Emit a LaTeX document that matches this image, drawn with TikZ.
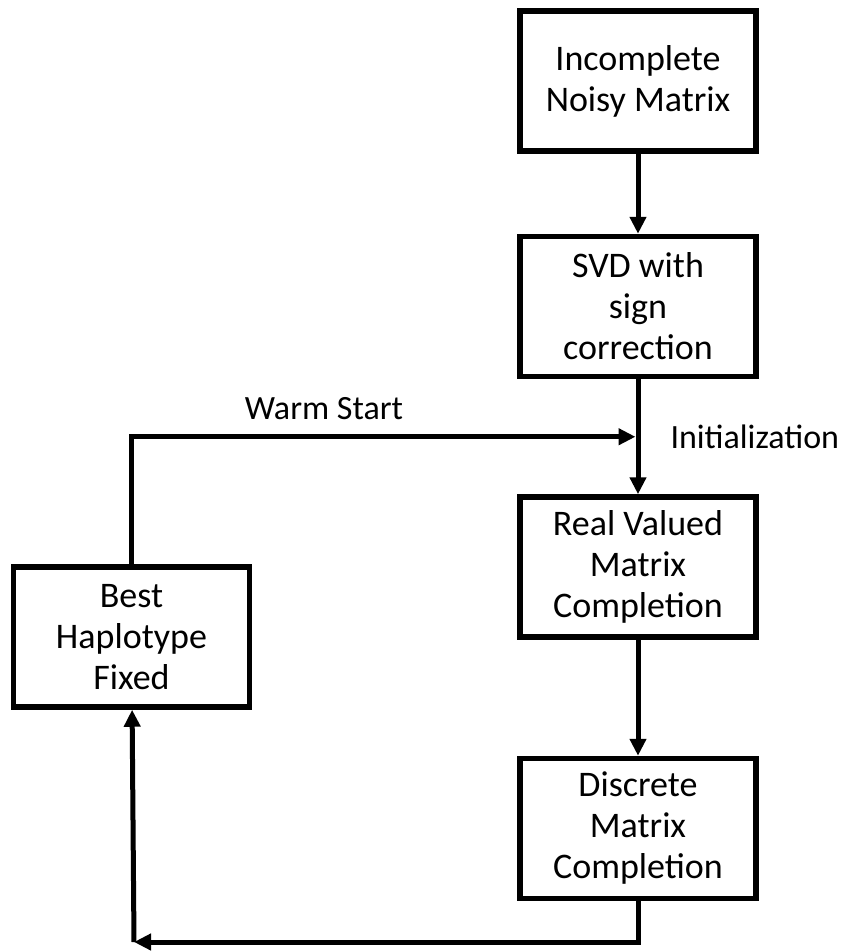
\documentclass[tikz,border=0pt]{standalone}
\usepackage{fontspec}
\setmainfont{Carlito}
\usetikzlibrary{positioning,arrows.meta}
\tikzset{
  stagebox/.style={draw, line width=5.5pt, minimum width=236pt, minimum height=140pt,
    align=center, font=\fontsize{36}{41}\selectfont},
  flow/.style={line width=5pt, -{Triangle[length=17pt,width=16pt]}},
  lbl/.style={inner sep=0pt, font=\fontsize{34}{41}\selectfont}
}
\begin{document}
\begin{tikzpicture}[x=1pt,y=-1pt]
        \useasboundingbox (0,0) rectangle (854,951);

        \node (inc)  [stagebox] at (638,81)           {Incomplete\\Noisy Matrix};
        \node (svd)  [stagebox, below=80pt of inc]   {SVD with\\sign\\correction};
        \node (real) [stagebox, below=115pt of svd]  {Real Valued\\Matrix\\Completion};
        \node (disc) [stagebox, below=116pt of real] {Discrete\\Matrix\\Completion};
        \node (best) [stagebox, left=265pt of real, yshift=-70pt] {Best\\Haplotype\\Fixed};

        \coordinate (corner) at (134,942);

        \draw [flow] (inc) -- (svd);
        \draw [flow] (svd) -- coordinate [pos=0.5] (join)
              node [lbl, pos=0.5, right=30pt] (init) {Initialization} (real);
        \draw [flow] (real) -- (disc);
        \draw [flow, shorten >=2.5pt] (best) |- node [lbl, pos=0.69, above=15pt] (warm) {Warm Start} (join);
        \draw [flow] (disc) |- (corner);
        \draw [flow] (corner) -- (best);
      \end{tikzpicture}
\end{document}
